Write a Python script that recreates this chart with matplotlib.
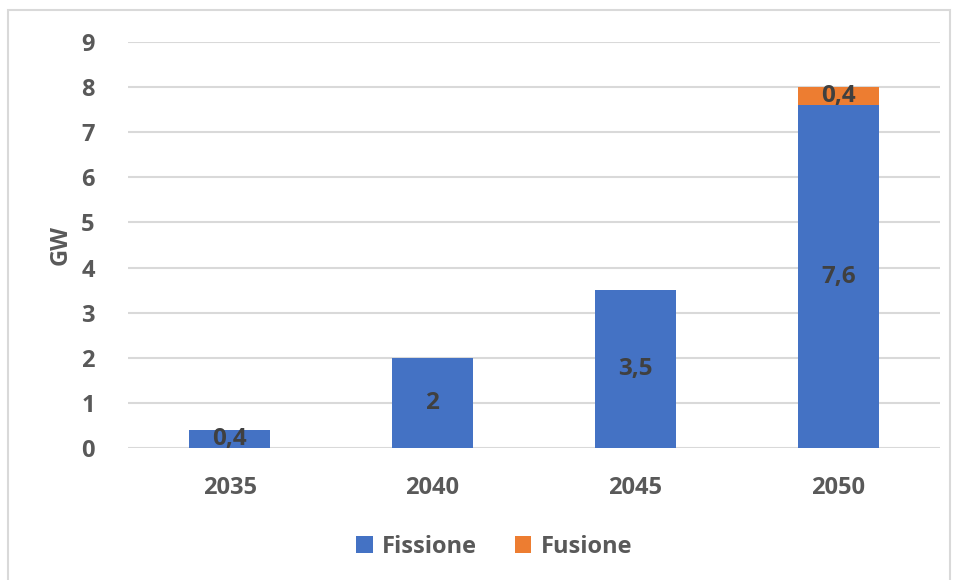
import matplotlib.pyplot as plt
from matplotlib.patches import Rectangle

# dati
ANNI = ["2035", "2040", "2045", "2050"]
FISSIONE = [0.4, 2, 3.5, 7.6]
FUSIONE = [0, 0, 0, 0.4]

BLU = "#4472C4"
ARANCIO = "#ED7D31"
GRIGIO = "#595959"
TESTO = "#404040"

plt.rcParams['font.family'] = ['Open Sans', 'DejaVu Sans']
plt.rcParams['font.weight'] = 'bold'

fig = plt.figure(figsize=(9.56, 5.8), dpi=100)
ax = fig.add_axes([0.134, 0.2276, 0.849, 0.70])

x = range(len(ANNI))
b1 = ax.bar(x, FISSIONE, width=0.4, color=BLU, label="Fissione", zorder=3)
b2 = ax.bar(x, FUSIONE, width=0.4, bottom=FISSIONE, color=ARANCIO, label="Fusione", zorder=3)

def fmt(v):
    return f"{v:g}".replace(".", ",")

for i, v in enumerate(FISSIONE):
    ax.text(i, v / 2, fmt(v), ha="center", va="center", fontsize=17.5,
            fontweight="bold", color=TESTO, zorder=4)
for i, v in enumerate(FUSIONE):
    if v > 0:
        ax.text(i, FISSIONE[i] + v / 2, fmt(v), ha="center", va="center",
                fontsize=17.5, fontweight="bold", color=TESTO, zorder=4)

ax.set_xlim(-0.5, 3.5)
ax.set_ylim(0, 9)
ax.set_yticks(range(10))
ax.set_xticks(list(x))
ax.set_xticklabels(ANNI)
ax.tick_params(axis="both", length=0, labelsize=17, labelcolor=GRIGIO)
ax.tick_params(axis="y", pad=24)
ax.tick_params(axis="x", pad=20)
ax.grid(axis="y", color="#D9D9D9", linewidth=1.5, zorder=0)
for s in ax.spines.values():
    s.set_visible(False)

ax.set_ylabel("GW", fontsize=17, color=GRIGIO, fontweight="bold", labelpad=6)

fig.legend(handles=[b1, b2], loc="center", bbox_to_anchor=(0.517, 0.057),
           ncol=2, frameon=False, fontsize=17, handlelength=0.7, handleheight=0.7,
           handletextpad=0.4, columnspacing=1.6, labelcolor=GRIGIO)

fig.patches.append(Rectangle((8 / 956, -0.01), 942 / 956, 1 - 10 / 580 + 0.01,
                             transform=fig.transFigure, fill=False,
                             edgecolor="#D9D9D9", linewidth=1.5))

fig.savefig("out.png")
